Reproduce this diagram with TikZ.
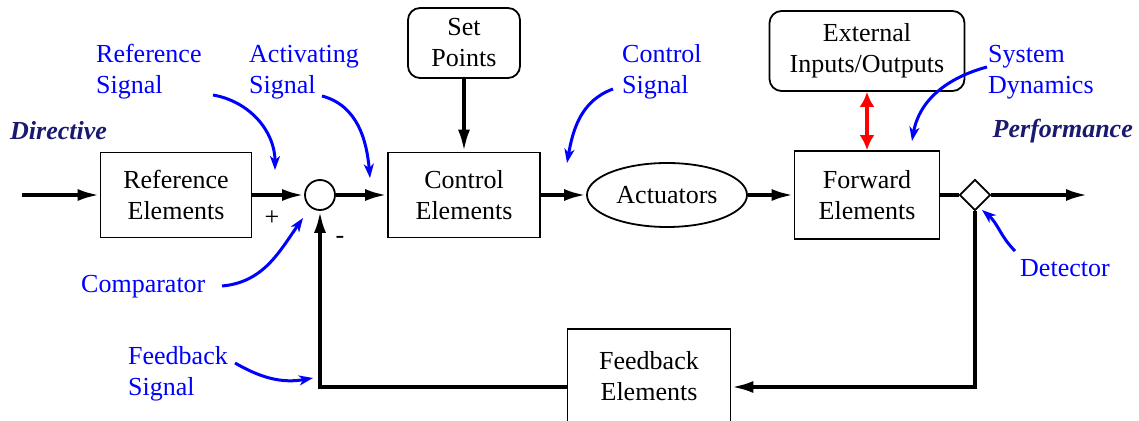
\documentclass[tikz,border=0pt]{standalone}
\usepackage{fontspec}
\setmainfont{Liberation Serif}
\usetikzlibrary{arrows.meta,shapes.geometric}
\definecolor{navy}{RGB}{25,25,112}
\tikzset{
  txt/.style={font=\fontsize{26}{31}\selectfont, align=center},
  blk/.style={txt, draw, line width=1.8pt, inner sep=0pt},
  rblk/.style={blk, rounded corners=12pt},
  sig/.style={font=\fontsize{26}{31}\selectfont, text=blue, align=left, anchor=west, inner sep=0pt},
  headline/.style={font=\fontsize{26}{31}\selectfont\bfseries\itshape, text=navy, inner sep=0pt},
  flow/.style={line width=3.8pt, -{Latex[length=22pt,width=12pt]}},
  wire/.style={line width=3.8pt},
  pointer/.style={blue, line width=3pt, -{Stealth[length=14pt,width=10pt,inset=4pt]}},
}

\begin{document}
\begin{tikzpicture}[x=1pt,y=1pt]

\useasboundingbox (0,0) rectangle (1139,420);
\clip (0,0) rectangle (1139,420);

% blocks
\node[blk, minimum width=151pt, minimum height=85pt] (refel) at (176,225) {Reference\\Elements};
\node[blk, circle, minimum size=30pt] (comp) at (320,225) {};
\node[blk, minimum width=152pt, minimum height=85pt] (ctrl) at (464,225) {Control\\Elements};
\node[rblk, minimum width=112pt, minimum height=70pt] (setp) at (464,377) {Set\\Points};
\node[blk, ellipse, minimum width=160pt, minimum height=64pt] (act) at (667,225) {Actuators};
\node[blk, minimum width=145pt, minimum height=88pt] (fwd) at (867,225) {Forward\\Elements};
\node[rblk, minimum width=195pt, minimum height=80pt] (ext) at (867,369) {External\\Inputs/Outputs};
\node[blk, diamond, aspect=1, minimum width=31pt, minimum height=31pt] (det) at (975,225) {};
\node[blk, minimum width=163pt, minimum height=94pt] (fb) at (649,44) {Feedback\\Elements};

\coordinate (in) at (22,225);
\coordinate (out) at (1088,225);

\node[txt] (plus) at (272,202) {+};
\node[txt] (minus) at (340,180) {-};

% signal path
\draw[flow] (in) -- (refel.west);
\draw[flow] (refel.east) -- (comp.west);
\draw[flow] (comp.east) -- (ctrl.west);
\draw[flow] (setp.south) -- (ctrl.north);
\draw[flow] (ctrl.east) -- (act.west);
\draw[flow] (act.east) -- (fwd.west);
\draw[wire] (fwd.east) -- (det.west);
\draw[flow] (det.east) -- (out);
\draw[flow] (det.south) |- ([yshift=-11pt]fb.east);
\draw[flow] ([yshift=-11pt]fb.west) -| (comp.south);
\draw[red, line width=4.5pt, {Latex[length=15pt,width=15pt]}-{Latex[length=15pt,width=15pt]}] (ext.south) -- (fwd.north);

% labels
\node[headline, anchor=west] (dirv) at (10,289) {Directive};
\node[headline, anchor=east] (perf) at (1133,289) {Performance};
\node[sig] (refsig) at (96,348) {Reference\\Signal};
\node[sig] (actsig) at (249,348) {Activating\\Signal};
\node[sig] (ctlsig) at (622,348) {Control\\Signal};
\node[sig] (sysdyn) at (988,348) {System\\Dynamics};
\node[sig] (cmplbl) at (81,133) {Comparator};
\node[sig] (fbsig) at (128,46) {Feedback\\Signal};
\node[sig] (detlbl) at (1020,152) {Detector};

\coordinate (refsigA) at (213,325);
\coordinate (refsigB) at (275,250);
\coordinate (actsigA) at (322,324);
\coordinate (actsigB) at (370,242);
\coordinate (ctlsigA) at (613,331);
\coordinate (ctlsigB) at (567,257);
\coordinate (sysdynA) at (987,353);
\coordinate (sysdynB) at (912,279);
\coordinate (cmpA) at (222,134);
\coordinate (cmpB) at (303,202);
\coordinate (fbsigA) at (235,57);
\coordinate (fbsigB) at (313,42);
\coordinate (detA) at (1015,169);
\coordinate (detB) at (982,210);

\draw[pointer] (refsigA) to[out=-10, in=90] (refsigB);
\draw[pointer] (actsigA) to[out=-15, in=95] (actsigB);
\draw[pointer] (ctlsigA) to[out=200, in=80] (ctlsigB);
\draw[pointer] (sysdynA) to[out=195, in=80] (sysdynB);
\draw[pointer] (cmpA) to[out=5, in=235] (cmpB);
\draw[pointer] (fbsigA) to[out=-30, in=190] (fbsigB);
\draw[pointer] (detA) to[out=135, in=-40] (detB);

\end{tikzpicture}
\end{document}
